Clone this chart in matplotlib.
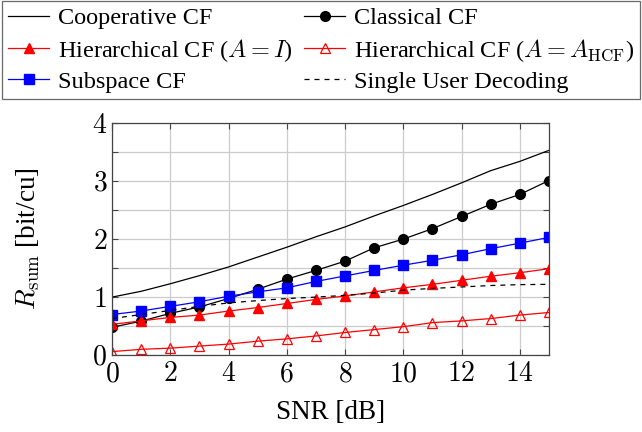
import matplotlib
matplotlib.use("Agg")
import matplotlib.pyplot as plt
import numpy as np

plt.rcParams['font.family'] = ['Liberation Serif', 'DejaVu Serif']
plt.rcParams['mathtext.fontset'] = 'cm'

# SNR grid and rates
snr = list(range(16))
cooperative = [1.00, 1.10, 1.23, 1.37, 1.52, 1.69, 1.86, 2.04, 2.21, 2.40, 2.58, 2.77, 2.97, 3.18, 3.34, 3.53]
classical = [0.48, 0.585, 0.72, 0.83, 0.976, 1.135, 1.31, 1.46, 1.62, 1.85, 2.00, 2.18, 2.39, 2.60, 2.77, 3.01]
hier_I = [0.53, 0.59, 0.65, 0.69, 0.76, 0.82, 0.89, 0.96, 1.02, 1.09, 1.16, 1.22, 1.29, 1.36, 1.42, 1.49]
hier_hcf = [0.06, 0.10, 0.12, 0.155, 0.19, 0.24, 0.28, 0.33, 0.39, 0.44, 0.49, 0.56, 0.59, 0.63, 0.69, 0.735]
subspace = [0.70, 0.76, 0.84, 0.92, 1.015, 1.09, 1.16, 1.27, 1.365, 1.46, 1.55, 1.635, 1.73, 1.835, 1.93, 2.03]
single_user = [0.63, 0.70, 0.77, 0.84, 0.90, 0.94, 0.975, 1.00, 1.03, 1.07, 1.12, 1.15, 1.175, 1.20, 1.215, 1.22]

xticks = [0, 2, 4, 6, 8, 10, 12, 14]
yticks = [0, 1, 2, 3, 4]

fig = plt.figure(figsize=(6.42, 4.32), dpi=100)
ax = fig.add_axes([0.1745, 0.178, 0.6805, 0.537])

lw = 0.9
h_coop, = ax.plot(snr, cooperative, color='black', lw=lw, label='Cooperative CF')
h_clas, = ax.plot(snr, classical, color='black', lw=lw, marker='o', ms=7, label='Classical CF')
h_hi, = ax.plot(snr, hier_I, color='red', lw=lw, marker='^', ms=7, label=r'Hierarchical CF ($A = I$)')
h_hh, = ax.plot(snr, hier_hcf, color='red', lw=lw, marker='^', ms=7, mfc='none', mew=0.9,
                label=r'Hierarchical CF ($A = A_{\mathrm{HCF}}$)')
h_sub, = ax.plot(snr, subspace, color='blue', lw=lw, marker='s', ms=7, label='Subspace CF')
h_su, = ax.plot(snr, single_user, color='black', lw=lw, ls=(0, (4, 4)), label='Single User Decoding')

ax.set_xlim(0, 15)
ax.set_ylim(0, 4)
ax.set_xticks(xticks)
ax.set_xticklabels([f'${t}$' for t in xticks])
ax.set_yticks(yticks)
ax.set_yticklabels([f'${t}$' for t in yticks])
ax.set_yticks(np.arange(0.5, 4, 1.0), minor=True)
ax.tick_params(which='both', direction='in', top=True, right=True, labelsize=20,
               length=4, width=0.8, color='#444444')
ax.tick_params(axis='x', pad=5)
ax.grid(True, which='both', color='#cccccc', lw=0.9)
ax.set_axisbelow(True)
for s in ax.spines.values():
    s.set_linewidth(0.9)
    s.set_color('#444444')

ax.set_xlabel('SNR [dB]', fontsize=19.5, labelpad=9)
ax.set_ylabel(r'$R_{\mathrm{sum}}$ [bit/cu]', fontsize=19.5, labelpad=36)

# column-first filling -> order handles so rows read left to right
handles = [h_coop, h_hi, h_sub, h_clas, h_hh, h_su]
leg = fig.legend(handles=handles, labels=[h.get_label() for h in handles],
                 loc='upper left', bbox_to_anchor=(0.003, 0.997, 0.994, 0.0), mode='expand',
                 ncol=2, fontsize=17.5, frameon=True, fancybox=False, edgecolor='#444444',
                 handlelength=1.7, columnspacing=0.5, handletextpad=0.35, labelspacing=0.3,
                 borderpad=0.25, borderaxespad=0.0)
leg.get_frame().set_linewidth(0.9)

fig.savefig('out.png', dpi=100)
